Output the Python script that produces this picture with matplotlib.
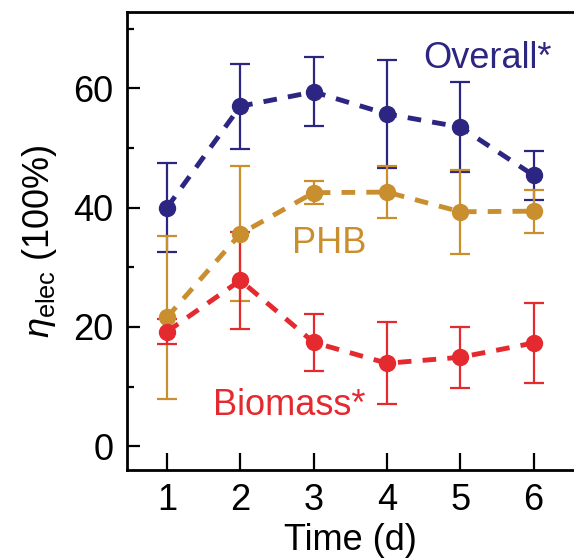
import matplotlib
matplotlib.use('Agg')
import matplotlib.pyplot as plt
from matplotlib.ticker import MultipleLocator

# Данные
days = [1, 2, 3, 4, 5, 6]

overall = [40.0, 57.0, 59.4, 55.7, 53.5, 45.4]
overall_err = [7.5, 7.1, 5.8, 9.0, 7.5, 4.1]

phb = [21.6, 35.6, 42.5, 42.6, 39.3, 39.4]
phb_err = [13.7, 11.3, 1.9, 4.3, 7.0, 3.6]

biomass = [19.2, 27.8, 17.4, 13.9, 14.9, 17.3]
biomass_err = [2.1, 8.1, 4.8, 6.9, 5.1, 6.7]

c_overall = '#2c2682'
c_phb = '#c98e2d'
c_biomass = '#e42a2f'

plt.rcParams.update({
    'font.family': 'Liberation Sans',
    'font.size': 26,
    'mathtext.fontset': 'custom',
    'mathtext.rm': 'Liberation Sans',
    'mathtext.it': 'Liberation Sans:italic',
})

fig = plt.figure(figsize=(5.74, 5.6), dpi=100)
ax = fig.add_axes([0.2213, 0.1607, 0.7787, 0.8179])

series = [
    (overall, overall_err, c_overall),
    (phb, phb_err, c_phb),
    (biomass, biomass_err, c_biomass),
]
for vals, errs, col in series:
    ax.errorbar(days, vals, yerr=errs, color=col, ecolor=col,
                linestyle=(0, (2.8, 2.3)), linewidth=3.5,
                marker='o', markersize=11.5, elinewidth=1.6,
                capsize=7.5, capthick=1.6)

ax.text(4.49, 65, 'Overall*', color=c_overall, ha='left', va='center', fontsize=26)
ax.text(2.70, 34, 'PHB', color=c_phb, ha='left', va='center', fontsize=26)
ax.text(1.63, 6.9, 'Biomass*', color=c_biomass, ha='left', va='center', fontsize=26)

ax.set_xlim(0.455, 6.55)
ax.set_ylim(-4.0, 72.8)
ax.set_xticks(days)
ax.yaxis.set_major_locator(MultipleLocator(20))
ax.yaxis.set_minor_locator(MultipleLocator(10))

ax.tick_params(axis='x', direction='in', length=12, width=1.6, pad=9)
ax.tick_params(axis='y', which='major', direction='in', length=9.5, width=1.6, pad=10)
ax.tick_params(axis='y', which='minor', direction='in', length=5, width=1.6)

for s in ['left', 'bottom', 'top']:
    ax.spines[s].set_linewidth(2.0)
ax.spines['right'].set_visible(False)

ax.set_xlabel('Time (d)', labelpad=4)
ax.set_ylabel(r'$\eta_{\mathrm{elec}}$ (100%)', labelpad=10)

fig.savefig('out.png', dpi=100)
